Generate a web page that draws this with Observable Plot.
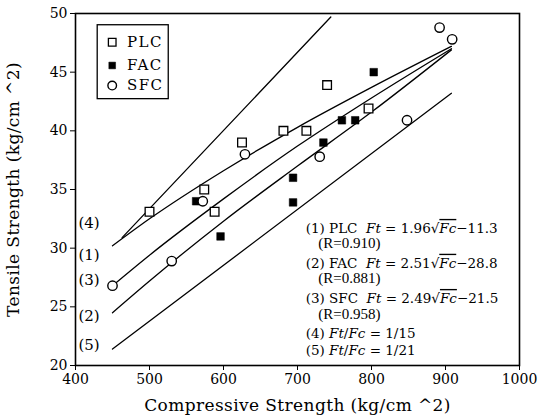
<!DOCTYPE html>
<html>
<head>
<meta charset="utf-8">
<script src="https://cdn.jsdelivr.net/npm/d3@7"></script>
<script src="https://cdn.jsdelivr.net/npm/@observablehq/plot@0.6"></script>
<style>
  html, body { margin: 0; padding: 0; background: #fff; }
  #chart { width: 544px; height: 419px; }
</style>
</head>
<body>
<div id="chart"></div>
<script>
// ---- data ----
const seriesNames = ["PLC", "FAC", "SFC"];
const plcFc = [500, 574, 588, 625, 681, 712, 740, 796];
const plcFt = [33.1, 35.0, 33.1, 39.0, 40.0, 40.0, 43.9, 41.9];
const facFc = [563, 596, 694, 694, 735, 760, 778, 803];
const facFt = [34.0, 31.0, 36.0, 33.9, 39.0, 40.9, 40.9, 45.0];
const sfcFc = [450, 530, 572, 629, 730, 848, 892, 909];
const sfcFt = [26.8, 28.9, 34.0, 38.0, 37.8, 40.9, 48.8, 47.8];

// fitted / reference lines
const line1Fc = [450, 500, 600, 700, 800, 908];
const line1Ft = [30.2, 32.5, 36.6, 40.3, 43.7, 47.2];
const line2Fc = [450, 500, 600, 700, 800, 908];
const line2Ft = [24.5, 27.2, 32.3, 37.0, 41.6, 46.9];
const line3Fc = [450, 500, 600, 700, 800, 908];
const line3Ft = [26.8, 29.4, 34.2, 38.7, 42.8, 47.0];
const line4Fc = [463, 745];
const line4Ft = [30.9, 49.7];
const line5Fc = [450, 908];
const line5Ft = [21.4, 43.2];

const lineLabels = ["(4)", "(1)", "(3)", "(2)", "(5)"];
const lineLabelFt = [32.1, 29.4, 27.3, 24.2, 21.7];

const eqText = [
  "(1) PLC  Ft = 1.96√Fc−11.3", "(R=0.910)",
  "(2) FAC  Ft = 2.51√Fc−28.8", "(R=0.881)",
  "(3) SFC  Ft = 2.49√Fc−21.5", "(R=0.958)",
  "(4) Ft/Fc = 1/15", "(5) Ft/Fc = 1/21"
];
const eqFt = [31.67, 30.4, 28.7, 27.4, 25.7, 24.4, 22.7, 21.3];
const eqIsR = [false, true, false, true, false, true, false, false];

const xTicks = [400, 500, 600, 700, 800, 900, 1000];
const yTicks = [20, 25, 30, 35, 40, 45, 50];
const xLabel = "Compressive Strength (kg/cm ^2)";
const yLabel = "Tensile Strength (kg/cm ^2)";

// ---- build tables ----
const pts = [
  ...plcFc.map((x, i) => ({Fc: x, Ft: plcFt[i], s: "PLC"})),
  ...facFc.map((x, i) => ({Fc: x, Ft: facFt[i], s: "FAC"})),
  ...sfcFc.map((x, i) => ({Fc: x, Ft: sfcFt[i], s: "SFC"}))
];
const mkLine = (xs, ys, id) => xs.map((x, i) => ({Fc: x, Ft: ys[i], id}));
const lines = [
  ...mkLine(line1Fc, line1Ft, "1"),
  ...mkLine(line2Fc, line2Ft, "2"),
  ...mkLine(line3Fc, line3Ft, "3"),
  ...mkLine(line4Fc, line4Ft, "4"),
  ...mkLine(line5Fc, line5Ft, "5")
];
const lineLabelData = lineLabels.map((t, i) => ({t, Ft: lineLabelFt[i]}));
const eqData = eqText.map((t, i) => ({t, Ft: eqFt[i], r: eqIsR[i]}));
const legendData = seriesNames.map((s, i) => ({s, Ft: [47.55, 45.57, 43.86][i]}));

const serif = "DejaVu Serif";
const times = "Liberation Serif";

const dotsFor = (name, opts) => Plot.dot(pts.filter(d => d.s === name), {x: "Fc", y: "Ft", ...opts});
const legendFor = (name, opts) => Plot.dot(legendData.filter(d => d.s === name), {x: () => 449.6, y: "Ft", ...opts});

const plcStyle = {symbol: "square", r: 4.9, fill: "white", stroke: "black", strokeWidth: 1.3};
const facStyle = {symbol: "square", r: 4.3, fill: "black", stroke: "black", strokeWidth: 0.5};
const sfcStyle = {symbol: "circle", r: 4.7, fill: "white", stroke: "black", strokeWidth: 1.4};

const chart = Plot.plot({
  width: 544,
  height: 419,
  marginLeft: 75,
  marginRight: 25,
  marginTop: 13,
  marginBottom: 54,
  style: {fontFamily: serif, fontSize: "14px", color: "black", background: "white"},
  x: {domain: [400, 1000], label: null},
  y: {domain: [20, 50], label: null},
  marks: [
    Plot.axisX({ticks: xTicks, tickSize: 5, tickPadding: 4, fontSize: 14, fontFamily: serif, label: null, tickFormat: d => String(d)}),
    Plot.axisY({ticks: yTicks, tickSize: 5, tickPadding: 3, fontSize: 14, fontFamily: serif, label: null, tickFormat: d => String(d)}),
    Plot.frame({stroke: "black", strokeWidth: 1.6}),
    Plot.line(lines, {x: "Fc", y: "Ft", z: "id", stroke: "black", strokeWidth: 1.3, curve: "monotone-x"}),
    dotsFor("PLC", plcStyle),
    dotsFor("FAC", facStyle),
    dotsFor("SFC", sfcStyle),
    // legend box
    Plot.rect([{x1: 430, x2: 526, y1: 42.7, y2: 49.0}], {x1: "x1", x2: "x2", y1: "y1", y2: "y2", fill: "white", stroke: "black", strokeWidth: 1.3}),
    legendFor("PLC", {...plcStyle, r: 4.3}),
    legendFor("FAC", {...facStyle, r: 3.8}),
    legendFor("SFC", {...sfcStyle, r: 4.3}),
    Plot.text(legendData, {x: () => 469.5, y: "Ft", text: "s", textAnchor: "start", fontSize: 15, fontFamily: serif, fill: "black", className: "legtext"}),
    // line labels
    Plot.text(lineLabelData, {x: () => 404, y: "Ft", text: "t", textAnchor: "start", fontSize: 15, fontFamily: serif, fill: "black"}),
    // equations
    Plot.text(eqData.filter(d => !d.r), {x: () => 711, y: "Ft", text: "t", textAnchor: "start", fontSize: 13.5, fontFamily: serif, fill: "black", className: "eq"}),
    Plot.text(eqData.filter(d => d.r), {x: () => 728, y: "Ft", text: "t", textAnchor: "start", fontSize: 15, fontFamily: times, fill: "black"}),
    // axis titles
    Plot.text([xLabel], {frameAnchor: "bottom", dy: 40, lineAnchor: "middle", textAnchor: "middle", text: d => d, fontSize: 17, fontFamily: serif, fill: "black", className: "atitle"}),
    Plot.text([yLabel], {frameAnchor: "left", dx: -62, rotate: -90, lineAnchor: "middle", textAnchor: "middle", text: d => d, fontSize: 17, fontFamily: serif, fill: "black", className: "atitle"})
  ]
});

document.getElementById("chart").appendChild(chart);

// rich text for the equations: italic Ft / Fc, overline under the radical
d3.select(chart).selectAll("g.eq text").each(function() {
  const t = d3.select(this);
  const s = t.text();
  t.text("");
  s.split(/(√Fc|Ft|Fc)/).forEach(p => {
    if (!p) return;
    if (p === "√Fc") {
      t.append("tspan").text("√");
      t.append("tspan").attr("font-style", "italic").style("text-decoration", "overline").text("Fc");
    } else if (p === "Ft" || p === "Fc") {
      t.append("tspan").attr("font-style", "italic").text(p);
    } else {
      t.append("tspan").text(p);
    }
  });
});
d3.select(chart).selectAll("g.legtext text").attr("letter-spacing", "1.5px");
d3.select(chart).selectAll("g.atitle text").attr("letter-spacing", "0.4px");
</script>
</body>
</html>
